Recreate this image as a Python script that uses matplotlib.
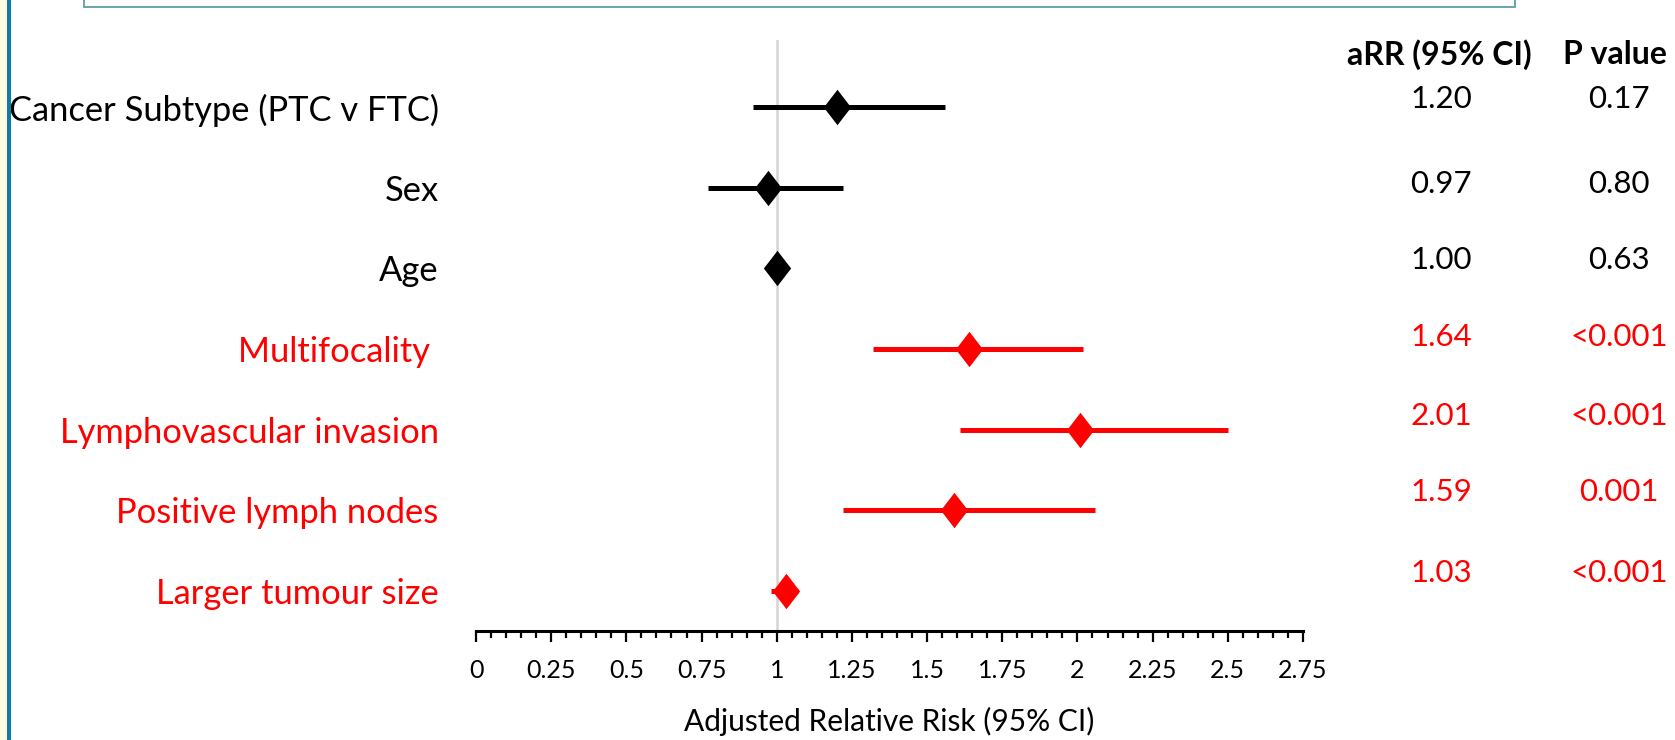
import matplotlib
matplotlib.use("Agg")
import matplotlib.pyplot as plt
from matplotlib.patches import Rectangle
from matplotlib.path import Path
from matplotlib.transforms import blended_transform_factory

# ---------------- data ----------------
labels = ["Cancer Subtype (PTC v FTC)", "Sex", "Age", "Multifocality ",
          "Lymphovascular invasion", "Positive lymph nodes", "Larger tumour size"]
arr = [1.20, 0.97, 1.00, 1.64, 2.01, 1.59, 1.03]
ci_low = [0.92, 0.77, 0.99, 1.32, 1.61, 1.22, 0.98]
ci_high = [1.56, 1.22, 1.01, 2.02, 2.50, 2.06, 1.07]
arr_text = ["1.20", "0.97", "1.00", "1.64", "2.01", "1.59", "1.03"]
p_text = ["0.17", "0.80", "0.63", "<0.001", "<0.001", "0.001", "<0.001"]
significant = [False, False, False, True, True, True, True]
xticks = [0, 0.25, 0.5, 0.75, 1, 1.25, 1.5, 1.75, 2, 2.25, 2.5, 2.75]
xtick_labels = ["0", "0.25", "0.5", "0.75", "1", "1.25", "1.5", "1.75", "2", "2.25", "2.5", "2.75"]
xlabel = "Adjusted Relative Risk (95% CI)"
header_arr = "aRR (95% CI)"
header_p = "P value"

# ---------------- style / layout ----------------
W, H = 1675, 740
FONT = "Lato"
plt.rcParams["font.family"] = [FONT, "DejaVu Sans"]
RED = "#FF0000"
colors = [RED if s else "black" for s in significant]
stat_offsets_px = [-8, -4, -8, -12, -14, -18, -18]  # text centre relative to row

fig = plt.figure(figsize=(W / 100, H / 100), dpi=100)
fig.patch.set_facecolor("white")

ax_left, ax_right = 476 / W, 1303 / W
ax_bottom, ax_top = 1 - 631 / H, 1 - 40 / H
ax = fig.add_axes([ax_left, ax_bottom, ax_right - ax_left, ax_top - ax_bottom])
ax.set_xlim(0, 2.75)
ax.set_ylim(6.496, -0.83)
row_px = (631 - 40) / (6.496 + 0.83)

for s in ["top", "right", "left"]:
    ax.spines[s].set_visible(False)
ax.spines["bottom"].set_linewidth(2.2)
ax.set_facecolor("none")

ax.axvline(1, color="#D4D4D4", lw=1.8, zorder=1)

diamond = Path([(0, 1), (0.77, 0), (0, -1), (-0.77, 0), (0, 1)],
               [Path.MOVETO, Path.LINETO, Path.LINETO, Path.LINETO, Path.CLOSEPOLY])
ys = list(range(len(labels)))
for y, m, lo, hi, c in zip(ys, arr, ci_low, ci_high, colors):
    ax.plot([lo, hi], [y, y], color=c, lw=3.6, solid_capstyle="butt", zorder=2)
    ax.plot([m], [y], marker=diamond, markersize=25.5, color=c, mec=c, mew=0, zorder=3)

ax.set_xticks(xticks)
ax.set_xticklabels(xtick_labels, fontsize=18)
ax.set_xticks([i * 0.05 for i in range(56)], minor=True)
ax.tick_params(axis="x", which="major", direction="out", length=8, width=1.6, pad=12)
ax.tick_params(axis="x", which="minor", direction="out", length=5, width=1.6)
ax.set_xlabel(xlabel, fontsize=21.5, labelpad=18)

ax.set_yticks(ys)
ax.set_yticklabels(labels, fontsize=24.8)
ax.tick_params(axis="y", length=0, pad=27)
for t, c in zip(ax.get_yticklabels(), colors):
    t.set_color(c)

# statistics columns
tr = blended_transform_factory(fig.transFigure, ax.transData)
for y, a, p, c, off in zip(ys, arr_text, p_text, colors, stat_offsets_px):
    yy = y + off / row_px
    ax.text(1441 / W, yy, a, transform=tr, ha="center", va="center", fontsize=22.5, color=c)
    ax.text(1619 / W, yy, p, transform=tr, ha="center", va="center", fontsize=22.5, color=c)

fig.text(1439 / W, 1 - 55 / H, header_arr, ha="center", va="center", fontsize=23,
         fontweight="bold")
fig.text(1615 / W, 1 - 55 / H, header_p, ha="center", va="center", fontsize=23,
         fontweight="bold")

# decorative frame
fig.patches.append(Rectangle((0, 0), 7 / W, 1, transform=fig.transFigure,
                             facecolor="#FFFDE1", edgecolor="none"))
fig.patches.append(Rectangle((7 / W, 0), 4 / W, 1, transform=fig.transFigure,
                             facecolor="#0F7EA3", edgecolor="none"))
fig.patches.append(Rectangle((84 / W, 1 - 7 / H), (1515 - 84) / W, 20 / H,
                             transform=fig.transFigure, facecolor="white",
                             edgecolor="#5E9EA6", lw=1.3))

fig.savefig("out.png", dpi=100)
